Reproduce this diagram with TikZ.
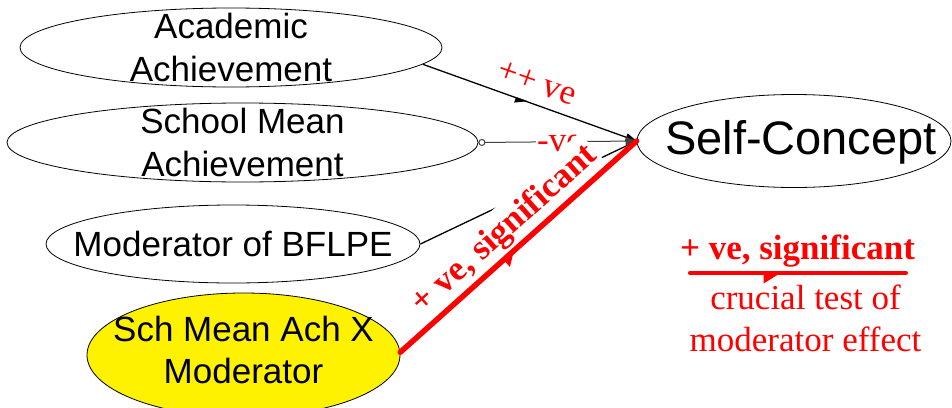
\documentclass[tikz,border=0pt]{standalone}
\usepackage{fontspec}
\newfontfamily\ari{Liberation Sans}
\newfontfamily\tnr{Liberation Serif}
\usetikzlibrary{shapes.geometric,arrows.meta,decorations.markings}
\begin{document}
\begin{tikzpicture}[x=1pt,y=-1pt,
  ell/.style={draw, ellipse, line width=0.8pt, inner sep=0pt},
  ltxt/.style={font=\ari\fontsize{35}{43}\selectfont, align=center, inner sep=0pt},
  rtxt/.style={text=red, font=\tnr\fontsize{35}{42.4}\selectfont, align=center},
  rbold/.style={text=red, font=\tnr\bfseries\fontsize{35}{42}\selectfont},
  conn/.style={line width=1.3pt},
  endtip/.style={-{Triangle[length=11pt,width=8pt]}},
  midarr/.style 2 args={postaction={decorate}, decoration={markings, mark=at position #1 with {\arrow{Triangle[harpoon,swap,#2]}}}},
]
\useasboundingbox (0,0) rectangle (952,407);

% ellipses
\node[ell, minimum width=422pt, minimum height=79pt,
  label={[ltxt]center:Academic\\Achievement}] (aa) at (231,47.5) {};
\node[ell, minimum width=471pt, minimum height=79pt,
  label={[ltxt]center:School Mean\\Achievement}] (sma) at (242.5,142.5) {};
\node[ell, minimum width=374pt, minimum height=78pt,
  label={[ltxt]center:Moderator of BFLPE}] (mod) at (233,244) {};
\node[ell, fill=yellow, minimum width=313pt, minimum height=124pt,
  label={[ltxt, font=\ari\fontsize{35}{42}\selectfont, yshift=5pt]center:Sch Mean Ach X\\Moderator}] (ym) at (243.5,355) {};
\node[ell, minimum width=314pt, minimum height=93pt,
  label={[ltxt, font=\ari\fontsize{47}{50}\selectfont, xshift=7pt, yshift=-1pt]center:Self-Concept}] (sc) at (794,141) {};

% connectors
\draw[conn, endtip, midarr={0.49}{length=11pt,width=10pt}] (aa.-5) -- (sc.west);
\draw[line width=1pt, black!75, {Circle[open,length=7pt,width=7pt]}-{Triangle[length=11pt,width=8pt]}] (sma.east) -- (sc.west);
\draw[conn] (mod.east) -- (sc.west);

% labels on paths
\node[rtxt, fill=white, inner sep=1pt] (neg) at (559.5,143) {-ve};
\node[rtxt, rotate=-19.5] (pp) at (537,83) {++ ve};
\node[rbold, rotate=41.7, fill=white, inner xsep=3pt, inner ysep=7pt] (sig) at (505,230) {+ ve, significant};

\draw[red, line width=5.5pt, line cap=round, midarr={0.49}{length=14pt,width=18pt}] (ym.1) -- (sc.west);

% right annotation
\node[rbold] (sig2) at (797.5,251) {+ ve, significant};
\coordinate (u1) at (690,273);
\coordinate (u2) at (906,273);
\draw[red, line width=4pt, line cap=round, midarr={0.435}{length=17pt,width=20pt}] (u1) -- (u2);
\node[rtxt] (crux) at (805.5,318.5) {crucial test of\\moderator effect};
\end{tikzpicture}
\end{document}
